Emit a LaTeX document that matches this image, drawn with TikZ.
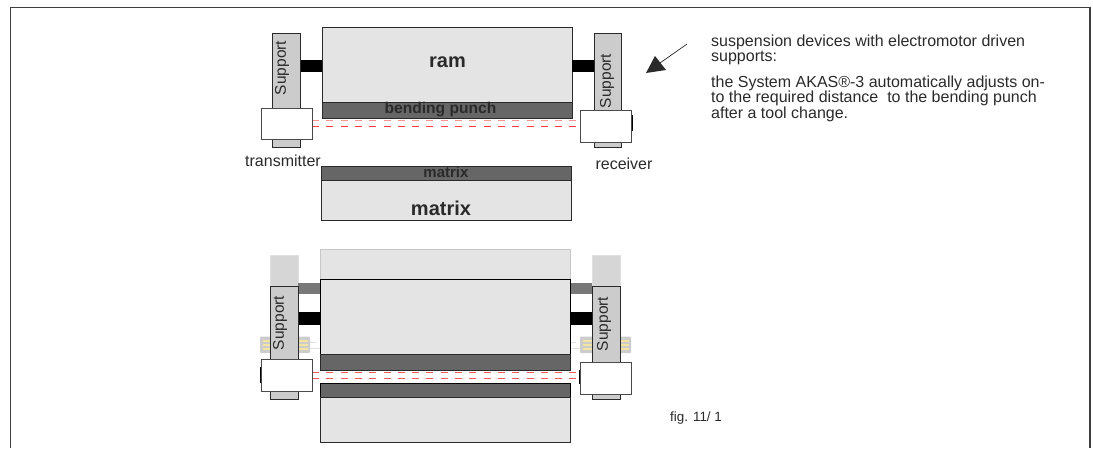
\documentclass[tikz,border=0pt]{standalone}
\usepackage{fontspec}
\setmainfont{Liberation Sans}
\definecolor{bodyfill}{HTML}{E4E4E4}
\definecolor{darkfill}{HTML}{666666}
\definecolor{supfill}{HTML}{CCCCCC}
\definecolor{ink}{HTML}{2A2A2A}
\definecolor{beam}{HTML}{FF3B3B}
\definecolor{stripe}{HTML}{F4E4A4}
\tikzset{
  x=1pt,y=-1pt,
  body/.style={fill=bodyfill,draw=ink,line width=0.9pt},
  ghostbody/.style={fill=bodyfill,draw=black!22,line width=0.9pt},
  tool/.style={fill=darkfill,draw=ink,line width=0.9pt},
  sup/.style={fill=supfill,draw=ink,line width=0.9pt},
  ghostsup/.style={fill=black!16,draw=black!12,line width=0.9pt},
  sensor/.style={fill=white,draw=ink!85,line width=0.9pt},
  beamline/.style={draw=beam,line width=0.8pt,dash pattern=on 7pt off 7.3pt},
  beamlight/.style={draw=beam!55,line width=0.9pt,dash pattern=on 7pt off 7.3pt},
  label/.style={text=ink,font=\fontsize{16}{17}\selectfont,inner sep=0pt},
  suplabel/.style={label,font=\fontsize{15.5}{16}\selectfont,rotate=90,anchor=center},
  note/.style={text=ink,font=\fontsize{16}{15.5}\selectfont,inner sep=0pt,anchor=base west},
}
\begin{document}
\begin{tikzpicture}
\useasboundingbox (0,0) rectangle (1093,448);
\draw[draw=ink!90,line width=1.1pt] (10.5,448) -- (10.5,7.5) -- (1090,7.5) -- (1090,448);
% upper machine
\draw[body] (322,27) rectangle (572,102);
\draw[tool] (322,102) rectangle (572,118);
\draw[tool] (321,166) rectangle (571,180);
\draw[body] (321,180) rectangle (571,220);
\fill[black] (300,60) rectangle (322,72);
\fill[black] (572,60) rectangle (594,72);
\draw[sup] (272,33.5) rectangle (300,147);
\draw[sup] (594,33.5) rectangle (621,147);
\draw[beamlight] (312,120) -- (580,120);
\draw[beamline] (312,126) -- (580,126);
\draw[sensor] (261,108) rectangle (312,139);
\draw[sensor] (580,110.5) rectangle (631,142);
\draw[black,line width=1pt] (632,115) -- (632,131);
\node[suplabel] (sup1) at (282,68) {Support};
\node[suplabel] (sup2) at (607,81) {Support};
\node[label,font=\fontsize{20}{20}\selectfont\bfseries] (ram) at (447.5,62) {ram};
\node[label,font=\fontsize{20}{20}\selectfont\bfseries] (mat1) at (441,208) {matrix};
\node[label,font=\fontsize{15.6}{16}\selectfont\bfseries] (punch) at (440.5,109) {bending punch};
\node[label,font=\fontsize{15}{16}\selectfont\bfseries] (mat2) at (446,172) {matrix};
\node[label] (trans) at (283,161) {transmitter};
\node[label] (recv) at (624,164) {receiver};
% arrow
\coordinate (arrowtail) at (687,44);
\coordinate (arrowtip) at (646,73);
\draw[ink,line width=0.7pt] (arrowtail) -- (660,63);
\fill[ink] (arrowtip) -- (655,56) -- (666,70) -- cycle;
% note
\node[note] (n1) at (711,46) {suspension devices with electromotor driven};
\node[note] (n2) at (711,61.5) {supports:};
\node[note] (n3) at (711,87) {the System AKAS®-3 automatically adjusts on-};
\node[note] (n4) at (711,102.5) {to the required distance\ \ to the bending punch};
\node[note] (n5) at (711,118) {after a tool change.};
\node[note,font=\fontsize{13.4}{15}\selectfont] (fig) at (670,421) {fig. 11/ 1};
% lower machine: raised position
\draw[ghostbody] (320,249) rectangle (570,279);
\draw[ghostsup] (270,255.5) rectangle (298,286);
\draw[ghostsup] (592,255.5) rectangle (620,286);
\fill[black!53] (298,283) rectangle (320,294);
\fill[black!53] (570,283) rectangle (592,294);
% springs
\draw[black!12,line width=0.7pt] (310,342) -- (316,342) (310,348) -- (320,348);
\draw[black!12,line width=0.7pt] (570,342) -- (576,342) (570,348) -- (580,348);
\foreach \a/\b in {260/310,580/631}{
  \fill[black!20,rounded corners=1pt] (\a,336.5) rectangle (\b,353);
  \foreach \y in {341,345,349}{
    \draw[stripe,line width=1.7pt] (\a+2.5,\y) -- (\b-2.5,\y);
  }
}
\draw[body,draw=black] (320,279) rectangle (570,354);
\draw[tool] (320,354) rectangle (570,370);
\draw[tool,draw=black] (320,383) rectangle (570.5,397);
\draw[body] (320,397) rectangle (570.5,442);
\fill[black] (298,312) rectangle (320,325);
\fill[black] (570,312) rectangle (592,325);
\draw[sup] (270.5,286) rectangle (298,399);
\draw[sup] (592,286) rectangle (620,399);
\draw[beamlight,draw=beam!85] (312,372.5) -- (580,372.5);
\draw[beamlight,draw=beam!85] (312,378.5) -- (580,378.5);
\draw[sensor] (261,359.5) rectangle (312,391);
\draw[sensor] (580,362.5) rectangle (631,394);
\draw[black,line width=1pt] (260,367) -- (260,383);
\draw[black,line width=0.7pt] (579.5,370) -- (579.5,384);
\node[suplabel] (sup3) at (280,323) {Support};
\node[suplabel] (sup4) at (604,324) {Support};
\end{tikzpicture}
\end{document}
